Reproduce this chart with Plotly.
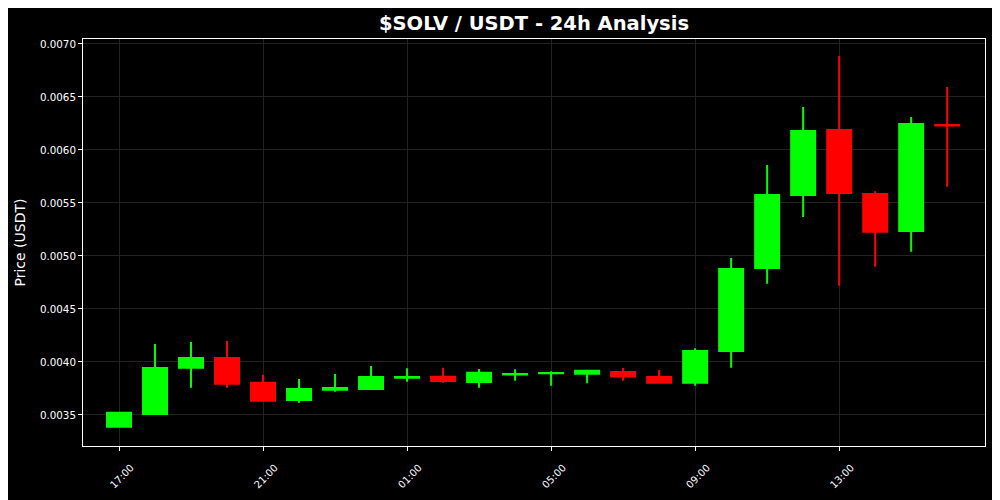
import plotly.graph_objects as go

times = ["2024-01-01 17:00", "2024-01-01 18:00", "2024-01-01 19:00", "2024-01-01 20:00",
         "2024-01-01 21:00", "2024-01-01 22:00", "2024-01-01 23:00", "2024-01-02 00:00",
         "2024-01-02 01:00", "2024-01-02 02:00", "2024-01-02 03:00", "2024-01-02 04:00",
         "2024-01-02 05:00", "2024-01-02 06:00", "2024-01-02 07:00", "2024-01-02 08:00",
         "2024-01-02 09:00", "2024-01-02 10:00", "2024-01-02 11:00", "2024-01-02 12:00",
         "2024-01-02 13:00", "2024-01-02 14:00", "2024-01-02 15:00", "2024-01-02 16:00"]
opens = [0.003390, 0.003510, 0.003946, 0.004038, 0.003805, 0.003642, 0.003738, 0.003745,
         0.003852, 0.003860, 0.003811, 0.003882, 0.003893, 0.003890, 0.003906, 0.003858,
         0.003805, 0.004104, 0.004887, 0.005575, 0.006189, 0.005585, 0.005236, 0.006236]
highs = [0.003528, 0.004170, 0.004189, 0.004198, 0.003880, 0.003840, 0.003887, 0.003962,
         0.003940, 0.003946, 0.003934, 0.003931, 0.003912, 0.003927, 0.003943, 0.003925,
         0.004129, 0.004981, 0.005858, 0.006406, 0.006887, 0.005610, 0.006311, 0.006594]
lows = [0.003385, 0.003505, 0.003758, 0.003758, 0.003626, 0.003616, 0.003720, 0.003736,
        0.003814, 0.003805, 0.003758, 0.003824, 0.003777, 0.003799, 0.003824, 0.003799,
        0.003777, 0.003946, 0.004739, 0.005368, 0.004720, 0.004899, 0.005041, 0.005654]
closes = [0.003522, 0.003943, 0.004038, 0.003795, 0.003635, 0.003745, 0.003755, 0.003858,
          0.003858, 0.003821, 0.003899, 0.003887, 0.003897, 0.003918, 0.003862, 0.003805,
          0.004104, 0.004877, 0.005575, 0.006179, 0.005594, 0.005229, 0.006245, 0.006230]

tick_vals = ["2024-01-01 17:00", "2024-01-01 21:00", "2024-01-02 01:00",
             "2024-01-02 05:00", "2024-01-02 09:00", "2024-01-02 13:00"]
tick_text = ["17:00", "21:00", "01:00", "05:00", "09:00", "13:00"]
y_ticks = [0.0035, 0.0040, 0.0045, 0.0050, 0.0055, 0.0060, 0.0065, 0.0070]

GREEN = "#00ff00"
RED = "#ff0000"

fig = go.Figure(go.Candlestick(
    x=times, open=opens, high=highs, low=lows, close=closes,
    increasing=dict(line=dict(color=GREEN, width=2), fillcolor=GREEN),
    decreasing=dict(line=dict(color=RED, width=2), fillcolor=RED),
    whiskerwidth=0,
    showlegend=False,
))

grid = "#222222"
fig.update_layout(
    width=1000, height=500,
    paper_bgcolor="#000000", plot_bgcolor="#000000",
    boxgap=0.3, boxgroupgap=0.05,
    font=dict(family="DejaVu Sans", color="#ffffff", size=10),
    title=dict(text="<b>$SOLV / USDT - 24h Analysis</b>", x=0.526, xanchor="center",
               y=0.97, yanchor="middle", font=dict(size=19.5, color="#ffffff")),
    margin=dict(l=75, r=23, t=31, b=62),
    xaxis=dict(
        type="date", rangeslider=dict(visible=False),
        range=["2024-01-01 16:00", "2024-01-02 17:03"],
        tickvals=tick_vals, ticktext=tick_text, tickangle=-45,
        ticklabelshift=12, ticklabelstandoff=7,
        showgrid=True, gridcolor=grid, gridwidth=1,
        showline=True, linecolor="#ffffff", linewidth=1, mirror=True,
        ticks="outside", tickcolor="#ffffff", ticklen=4,
        tickfont=dict(size=10, color="#ffffff"), zeroline=False,
    ),
    yaxis=dict(
        range=[0.0032075, 0.007047],
        tickvals=y_ticks, tickformat=".4f",
        showgrid=True, gridcolor=grid, gridwidth=1,
        showline=True, linecolor="#ffffff", linewidth=1, mirror=True,
        ticks="outside", tickcolor="#ffffff", ticklen=4,
        tickfont=dict(size=10.3, color="#ffffff"), zeroline=False,
        title=dict(text="Price (USDT)", font=dict(size=14, color="#ffffff"), standoff=11),
    ),
)

fig.write_html("out.html")
